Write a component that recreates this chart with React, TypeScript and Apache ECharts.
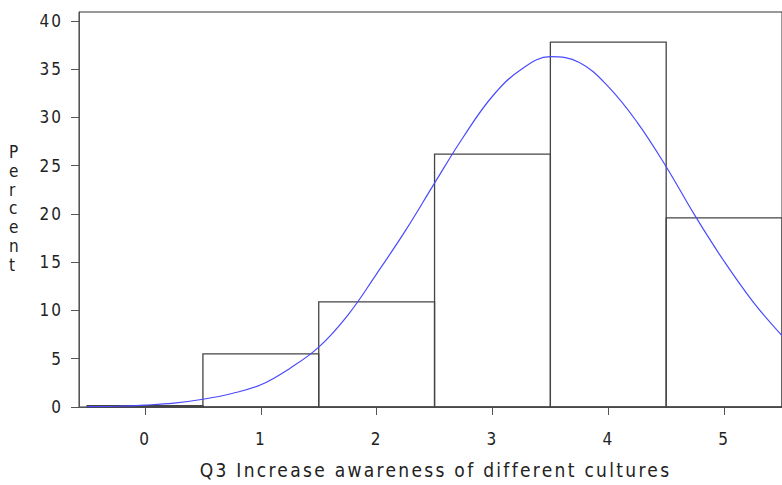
import React, { useEffect, useRef } from "react";
import * as echarts from "echarts";

const categories = [0, 1, 2, 3, 4, 5];
const percents = [0.15, 5.5, 10.9, 26.2, 37.8, 19.6];
const yTicks = [0, 5, 10, 15, 20, 25, 30, 35, 40];
const curveX = [-0.5, -0.25, 0, 0.25, 0.5, 0.75, 1, 1.25, 1.5, 1.75, 2, 2.25, 2.5, 2.75, 3, 3.25, 3.5, 3.75, 4, 4.25, 4.5, 4.75, 5, 5.25, 5.5];
const curveY = [0.03, 0.08, 0.2, 0.4, 0.8, 1.4, 2.3, 4.0, 6.2, 9.5, 13.8, 18.3, 23.2, 28.0, 32.2, 35.0, 36.3, 35.7, 33.2, 29.5, 24.9, 19.8, 15.1, 10.9, 7.4];
const xTitle = "Q3 Increase awareness of different cultures";
const yTitle = "Percent";

const FONT = "'Liberation Sans Narrow', 'DejaVu Sans Condensed', 'Arial Narrow', 'Liberation Sans', sans-serif";
const TEXT = "#222";

export default function App() {
  const ref = useRef<HTMLDivElement>(null);
  useEffect(() => {
    if (!ref.current) return;
    const chart = echarts.init(ref.current, null, { renderer: "svg" });
    const barData = categories.map((c, i) => [c, percents[i]]);
    const curveData = curveX.map((x, i) => [x, curveY[i]]);
    chart.setOption({
      animation: false,
      grid: {
        left: 79,
        top: 12,
        width: 706,
        height: 395,
        show: true,
        borderColor: "#333",
        borderWidth: 1,
        backgroundColor: "transparent",
      },
      xAxis: {
        type: "value",
        min: -0.57,
        max: 5.5,
        name: xTitle,
        nameLocation: "middle",
        nameGap: 53,
        nameTextStyle: { fontFamily: FONT, fontSize: 19, color: TEXT, padding: [0, 0, 0, 10] },
        axisLine: { show: true, onZero: false, lineStyle: { color: "#555", width: 1 } },
        axisTick: { show: true, length: 8, lineStyle: { color: "#555" }, customValues: categories },
        axisLabel: { fontFamily: FONT, fontSize: 17, color: TEXT, margin: 23, customValues: categories },
        splitLine: { show: false },
      },
      yAxis: {
        type: "value",
        min: 0,
        max: 40.93,
        axisLine: { show: true, onZero: false, lineStyle: { color: "#555", width: 1 } },
        axisTick: { show: true, length: 8, lineStyle: { color: "#555" }, customValues: yTicks },
        axisLabel: { fontFamily: FONT, fontSize: 17, color: TEXT, margin: 16, customValues: yTicks },
        splitLine: { show: false },
      },
      graphic: [
        {
          type: "text",
          left: 9,
          top: 143,
          style: {
            text: yTitle.split("").join("\n"),
            fontFamily: FONT,
            fontSize: 17,
            lineHeight: 18.7,
            fill: TEXT,
            align: "center",
          },
        },
      ],
      series: [
        {
          type: "custom",
          data: barData,
          renderItem: (params: any, api: any) => {
            const x = api.value(0);
            const v = api.value(1);
            const p0 = api.coord([x - 0.5, 0]);
            const p1 = api.coord([x + 0.5, v]);
            return {
              type: "rect",
              shape: { x: p0[0], y: p1[1], width: p1[0] - p0[0], height: p0[1] - p1[1] },
              style: { fill: "none", stroke: "#444", lineWidth: 1.3 },
            };
          },
          z: 2,
        },
        {
          type: "line",
          data: curveData,
          smooth: 0.4,
          symbol: "none",
          lineStyle: { color: "#4a4aff", width: 1.2 },
          z: 3,
        },
      ],
    });
    return () => chart.dispose();
  }, []);
  return (
    <div>
      <style>{`#chart svg text { letter-spacing: 2px; } #chart svg text[style*="19px"] { letter-spacing: 2.3px; }`}</style>
      <div
        id="chart"
        ref={ref}
        style={{ position: "absolute", left: 0, top: 0, width: 782, height: 485, overflow: "hidden" }}
      />
    </div>
  );
}
